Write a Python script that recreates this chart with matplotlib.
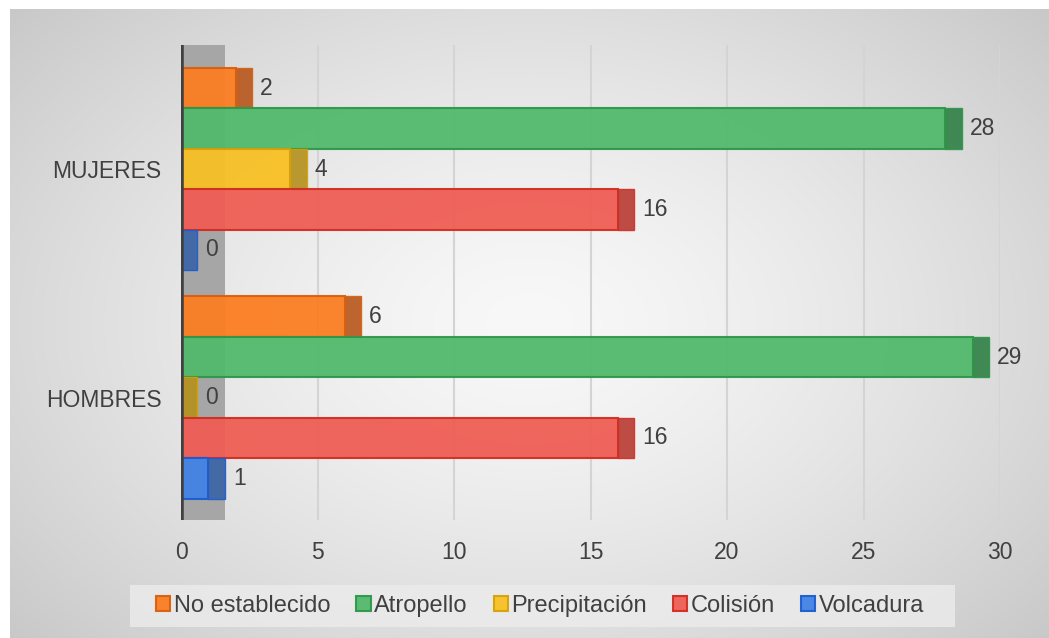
import numpy as np
import matplotlib
matplotlib.use("Agg")
import matplotlib.pyplot as plt
from matplotlib.patches import Rectangle
from matplotlib.colors import to_rgb

plt.rcParams['font.family'] = ['Liberation Sans', 'DejaVu Sans']

# ---- data ----
categories = ["HOMBRES", "MUJERES"]
series_names = ["No establecido", "Atropello", "Precipitación", "Colisión", "Volcadura"]
no_establecido = [6, 2]
atropello = [29, 28]
precipitacion = [0, 4]
colision = [16, 16]
volcadura = [1, 0]
x_ticks = [0, 5, 10, 15, 20, 25, 30]

series_values = [no_establecido, atropello, precipitacion, colision, volcadura]
face_colors = ["#FB7E22", "#52B96C", "#F8C024", "#EF5E55", "#4283E6"]
edge_colors = ["#D95F0E", "#2E9748", "#D6A108", "#D12D22", "#1E5CCC"]
side_colors = ["#B8561B", "#2F7F45", "#B5901C", "#B83A32", "#3A63A8"]

W, H = 1049, 638
fig = plt.figure(figsize=(W / 100, H / 100), dpi=100)
fig.patch.set_facecolor("white")

# background radial gradient (chart area)
bg = fig.add_axes([10 / W, 0, 1 - 10 / W, 1 - 9 / H], zorder=-10)
yy, xx = np.mgrid[0:1:300j, 0:1:500j]
r = np.sqrt(((xx - 0.5) / 0.75) ** 2 + ((yy - 0.5) / 0.85) ** 2)
r = np.clip(r, 0, 1)
top = np.array(to_rgb("#F8F8F8"))
edge = np.array(to_rgb("#C0C0C0"))
img = top[None, None, :] * (1 - r[..., None] ** 1.4) + edge[None, None, :] * (r[..., None] ** 1.4)
bg.imshow(img, aspect="auto", extent=[0, 1, 0, 1], origin="upper")
bg.set_axis_off()

# legend background box
fig.patches.append(Rectangle((130 / W, 1 - 627 / H), (955 - 130) / W, (627 - 585) / H,
                             transform=fig.transFigure, facecolor="#ECECEC", alpha=0.8,
                             edgecolor="none", zorder=-5))

ax = fig.add_axes([181 / W, 1 - 520 / H, (1000 - 181) / W, (520 - 45) / H])
ax.set_facecolor("none")

h = 0.177
depth = 0.6
y_base = np.arange(len(categories))

# left wall
ax.axvspan(0, 1.6, color="#A6A6A6", zorder=1, lw=0)
ax.axvline(0, color="#404040", lw=4, zorder=5)

for xt in x_ticks[1:]:
    ax.axvline(xt, color="#D4D4D4", lw=1.5, zorder=0.5)

handles = []
for i, (name, vals) in enumerate(zip(series_names, series_values)):
    ys = y_base + (2 - i) * h
    b = ax.barh(ys, vals, height=h, color=face_colors[i], edgecolor=edge_colors[i],
                linewidth=1.5, zorder=3, alpha=0.95, label=name)
    ax.barh(ys, [depth] * len(vals), left=vals, height=h, color=side_colors[i],
            edgecolor=edge_colors[i], linewidth=1.0, zorder=3, alpha=0.9)
    handles.append(b)
    for y, v in zip(ys, vals):
        ax.text(v + depth + 0.3, y, str(v), va="center", ha="left",
                fontsize=16.5, color="#404040", zorder=6)

ax.set_xlim(0, 30)
ax.set_ylim(-0.536, 1.543)
ax.set_xticks(x_ticks)
ax.set_xticklabels([str(t) for t in x_ticks])
ax.set_yticks(y_base)
ax.set_yticklabels(categories)
ax.tick_params(axis="x", length=0, pad=15, labelsize=16.5, labelcolor="#404040")
ax.tick_params(axis="y", length=0, pad=14, labelsize=16.5, labelcolor="#404040")
for s in ax.spines.values():
    s.set_visible(False)

leg = fig.legend(handles=handles, labels=series_names, loc="center",
                 bbox_to_anchor=(540 / W, 1 - 606 / H), ncol=5, frameon=False,
                 fontsize=17, handlelength=0.6, handleheight=0.6, handletextpad=0.15,
                 columnspacing=1.1, labelcolor="#404040")

fig.savefig("out.png", dpi=100)
